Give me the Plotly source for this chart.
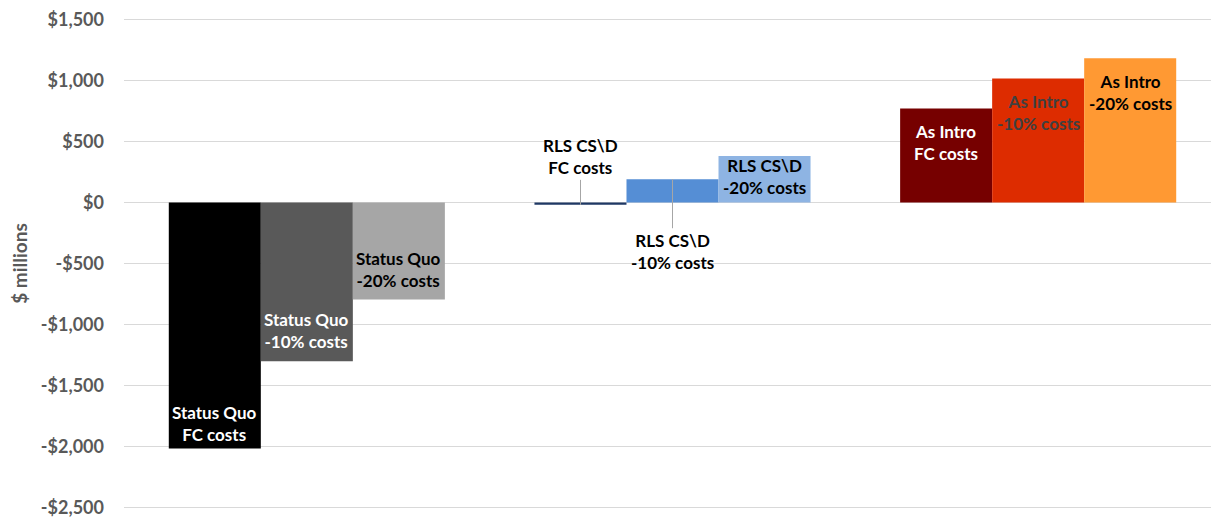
import plotly.graph_objects as go

categories = ["Status Quo", "RLS CS\\D", "As Intro"]
fc_costs = [-2015, -20, 770]
minus10_costs = [-1300, 190, 1015]
minus20_costs = [-795, 380, 1180]

fc_colors = ["#000000", "#1F3864", "#760000"]
m10_colors = ["#595959", "#558ED5", "#DD2C00"]
m20_colors = ["#A6A6A6", "#8EB4E3", "#FF9933"]

series_labels = ["FC costs", "-10% costs", "-20% costs"]
tick_vals = [1500, 1000, 500, 0, -500, -1000, -1500, -2000, -2500]
tick_text = ["$1,500", "$1,000", "$500", "$0", "-$500", "-$1,000", "-$1,500", "-$2,000", "-$2,500"]

FONT = "Lato"
LSIZE = 17

fig = go.Figure()
for vals, cols, name in [(fc_costs, fc_colors, series_labels[0]),
                         (minus10_costs, m10_colors, series_labels[1]),
                         (minus20_costs, m20_colors, series_labels[2])]:
    fig.add_trace(go.Bar(x=categories, y=vals, name=name,
                         marker=dict(color=cols, line=dict(width=0)),
                         hoverinfo="skip"))

# pixel offset of each bar within group (bar width ~92 px)
offsets = [-92, 0, 92]

def lab(ci, si, vals, color, dx=0, **kw):
    text = categories[ci] + "<br>" + series_labels[si]
    base = dict(x=categories[ci], y=vals[ci], xref="x", yref="y",
                text="<b>" + text + "</b>", showarrow=False,
                xshift=offsets[si] + dx,
                font=dict(family=FONT, size=LSIZE, color=color))
    base.update(kw)
    return base

ann = []
# Status Quo
ann.append(lab(0, 0, fc_costs, "#FFFFFF", yanchor="bottom", yshift=2))
ann.append(lab(0, 1, minus10_costs, "#FFFFFF", yanchor="bottom", yshift=7))
ann.append(lab(0, 2, minus20_costs, "#000000", yanchor="bottom", yshift=7))
# RLS
ann.append(lab(1, 0, fc_costs, "#000000", dx=0, showarrow=True, arrowhead=0,
               arrowwidth=1, arrowcolor="#A6A6A6", ax=0, ay=-48))
ann.append(lab(1, 1, minus10_costs, "#000000", showarrow=True, arrowhead=0,
               arrowwidth=1, arrowcolor="#A6A6A6", ax=0, ay=72))
ann.append(lab(1, 2, minus20_costs, "#000000", yanchor="top", yshift=3))
# As Intro
ann.append(lab(2, 0, fc_costs, "#FFFFFF", yanchor="top", yshift=-11))
ann.append(lab(2, 1, minus10_costs, "#404040", yanchor="top", yshift=-11))
ann.append(lab(2, 2, minus20_costs, "#000000", yanchor="top", yshift=-11))

fig.update_layout(
    width=1219, height=523,
    margin=dict(l=116, r=6, t=10, b=22, autoexpand=False),
    paper_bgcolor="white", plot_bgcolor="white",
    barmode="group", bargap=0.245, bargroupgap=0,
    showlegend=False,
    annotations=ann,
    font=dict(family=FONT),
    xaxis=dict(showticklabels=False, showgrid=False, zeroline=False,
               showline=False, ticks="", automargin=False),
    yaxis=dict(range=[-2510, 1510], tickvals=tick_vals, ticktext=tick_text,
               tickfont=dict(family=FONT, size=18, color="#595959", weight="bold"),
               ticklabeloverflow="allow", automargin=False,
               showgrid=True, gridcolor="#D9D9D9", gridwidth=1.3,
               zeroline=True, zerolinecolor="#D9D9D9", zerolinewidth=1.3,
               showline=False, ticks="", ticklabelstandoff=19,
               title=dict(text="$ millions",
                          font=dict(family=FONT, size=19, color="#595959", weight="bold"),
                          standoff=12)),
)

fig.write_html("out.html")
